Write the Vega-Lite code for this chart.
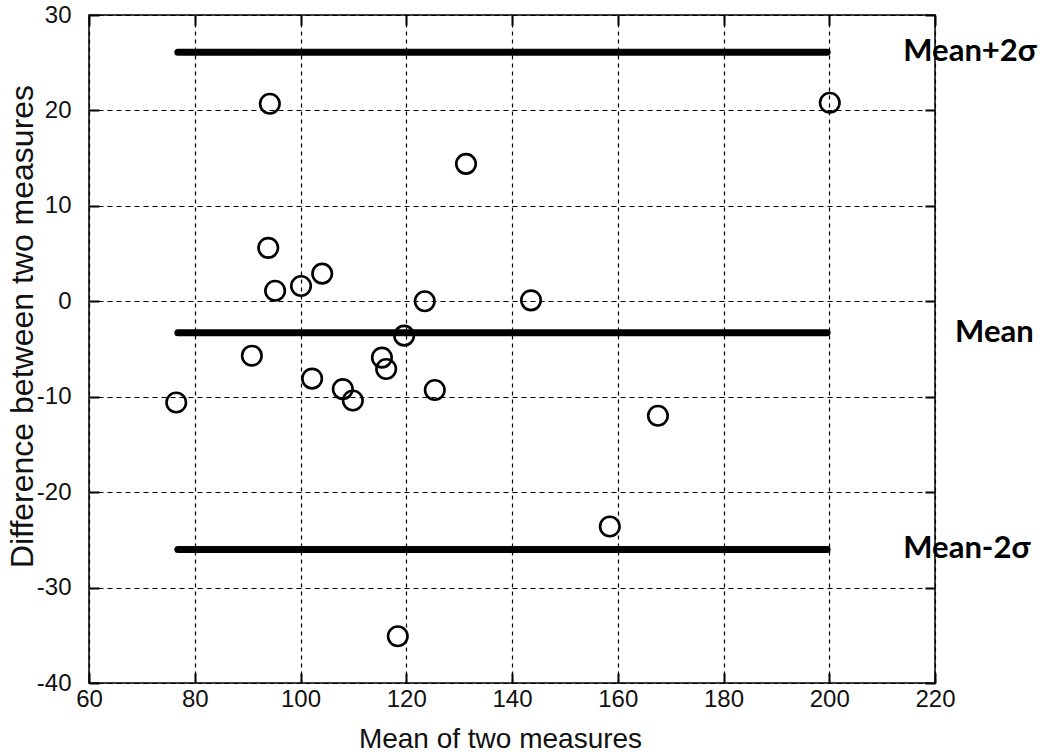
{
  "$schema": "https://vega.github.io/schema/vega-lite/v6.json",
  "autosize": "none",
  "width": 846,
  "height": 668,
  "padding": {"left": 89, "top": 15, "right": 115, "bottom": 69},
  "background": "white",
  "config": {
    "view": {"stroke": "black", "strokeWidth": 1.5},
    "axis": {
      "domain": false,
      "grid": true,
      "gridColor": "black",
      "gridOpacity": 1,
      "gridWidth": 1.2,
      "tickColor": "black",
      "tickSize": -10,
      "tickWidth": 2,
      "labelFlush": false,
      "labelOverlap": false,
      "labelFont": "Liberation Sans",
      "labelFontSize": 24,
      "labelColor": "#111",
      "titleFont": "Liberation Sans",
      "titleFontWeight": "normal",
      "titleColor": "#111"
    }
  },
  "datasets": {
    "points": [
      {"mean": 76.5, "diff": -10.6},
      {"mean": 94.2, "diff": 20.7},
      {"mean": 200.1, "diff": 20.8},
      {"mean": 131.3, "diff": 14.4},
      {"mean": 93.9, "diff": 5.6},
      {"mean": 95.2, "diff": 1.1},
      {"mean": 100.1, "diff": 1.6},
      {"mean": 104.1, "diff": 2.9},
      {"mean": 123.5, "diff": 0.0},
      {"mean": 143.6, "diff": 0.1},
      {"mean": 119.6, "diff": -3.6},
      {"mean": 90.8, "diff": -5.7},
      {"mean": 102.2, "diff": -8.1},
      {"mean": 108.0, "diff": -9.2},
      {"mean": 109.9, "diff": -10.4},
      {"mean": 115.4, "diff": -5.9},
      {"mean": 116.2, "diff": -7.1},
      {"mean": 125.4, "diff": -9.3},
      {"mean": 167.6, "diff": -12.0},
      {"mean": 158.5, "diff": -23.6},
      {"mean": 118.4, "diff": -35.1}
    ],
    "lines": [
      {"label": "Mean+2σ", "y": 26.1, "x1": 76.8, "x2": 199.6},
      {"label": "Mean", "y": -3.3, "x1": 76.8, "x2": 199.6},
      {"label": "Mean-2σ", "y": -26.0, "x1": 76.8, "x2": 199.6}
    ]
  },
  "resolve": {"axis": {"x": "independent", "y": "independent"}},
  "layer": [
    {
      "data": {"name": "lines"},
      "mark": {"type": "rule", "strokeWidth": 7, "color": "black", "strokeCap": "round"},
      "encoding": {
        "x": {
          "field": "x1", "type": "quantitative",
          "scale": {"domain": [60, 220], "nice": false, "zero": false},
          "axis": {
            "orient": "bottom",
            "values": [60, 80, 100, 120, 140, 160, 180, 200, 220],
            "gridDash": [4, 4],
            "labelPadding": 14,
            "title": "Mean of two measures",
            "titleFontSize": 28,
            "titleX": 411,
            "titleY": 64,
            "titleBaseline": "alphabetic",
            "titleAnchor": "middle",
            "titleAlign": "center"
          }
        },
        "x2": {"field": "x2"},
        "y": {
          "field": "y", "type": "quantitative",
          "scale": {"domain": [-40, 30], "nice": false, "zero": false},
          "axis": {
            "orient": "left",
            "values": [-40, -30, -20, -10, 0, 10, 20, 30],
            "gridDash": [5, 4],
            "labelPadding": 28,
            "labelExpr": "datum.value < 0 ? '-' + abs(datum.value) : '' + datum.value",
            "title": "Difference between two measures",
            "titleFontSize": 32,
            "titleX": -67,
            "titleY": 311,
            "titleAngle": -90,
            "titleBaseline": "middle",
            "titleAlign": "center"
          }
        }
      }
    },
    {
      "data": {"name": "points"},
      "mark": {"type": "point", "shape": "circle", "filled": false, "size": 380, "strokeWidth": 2.6, "color": "black", "opacity": 1},
      "encoding": {
        "x": {"field": "mean", "type": "quantitative",
          "axis": {"orient": "top", "values": [60, 80, 100, 120, 140, 160, 180, 200, 220], "labels": false, "grid": false, "title": null}},
        "y": {"field": "diff", "type": "quantitative",
          "axis": {"orient": "right", "values": [-40, -30, -20, -10, 0, 10, 20, 30], "labels": false, "grid": false, "title": null}}
      }
    },
    {
      "data": {"name": "lines"},
      "transform": [{"filter": "datum.label !== 'Mean'"}],
      "mark": {"type": "text", "align": "left", "baseline": "middle", "font": "Lato", "fontWeight": "bold", "fontSize": 31, "color": "black", "clip": false},
      "encoding": {
        "x": {"datum": 214, "axis": null},
        "y": {"field": "y", "type": "quantitative", "axis": null},
        "text": {"field": "label"}
      }
    },
    {
      "data": {"name": "lines"},
      "transform": [{"filter": "datum.label === 'Mean'"}],
      "mark": {"type": "text", "align": "left", "baseline": "middle", "font": "Lato", "fontWeight": "bold", "fontSize": 31, "color": "black", "clip": false},
      "encoding": {
        "x": {"datum": 223.8, "axis": null},
        "y": {"field": "y", "type": "quantitative", "axis": null},
        "text": {"field": "label"}
      }
    }
  ]
}
